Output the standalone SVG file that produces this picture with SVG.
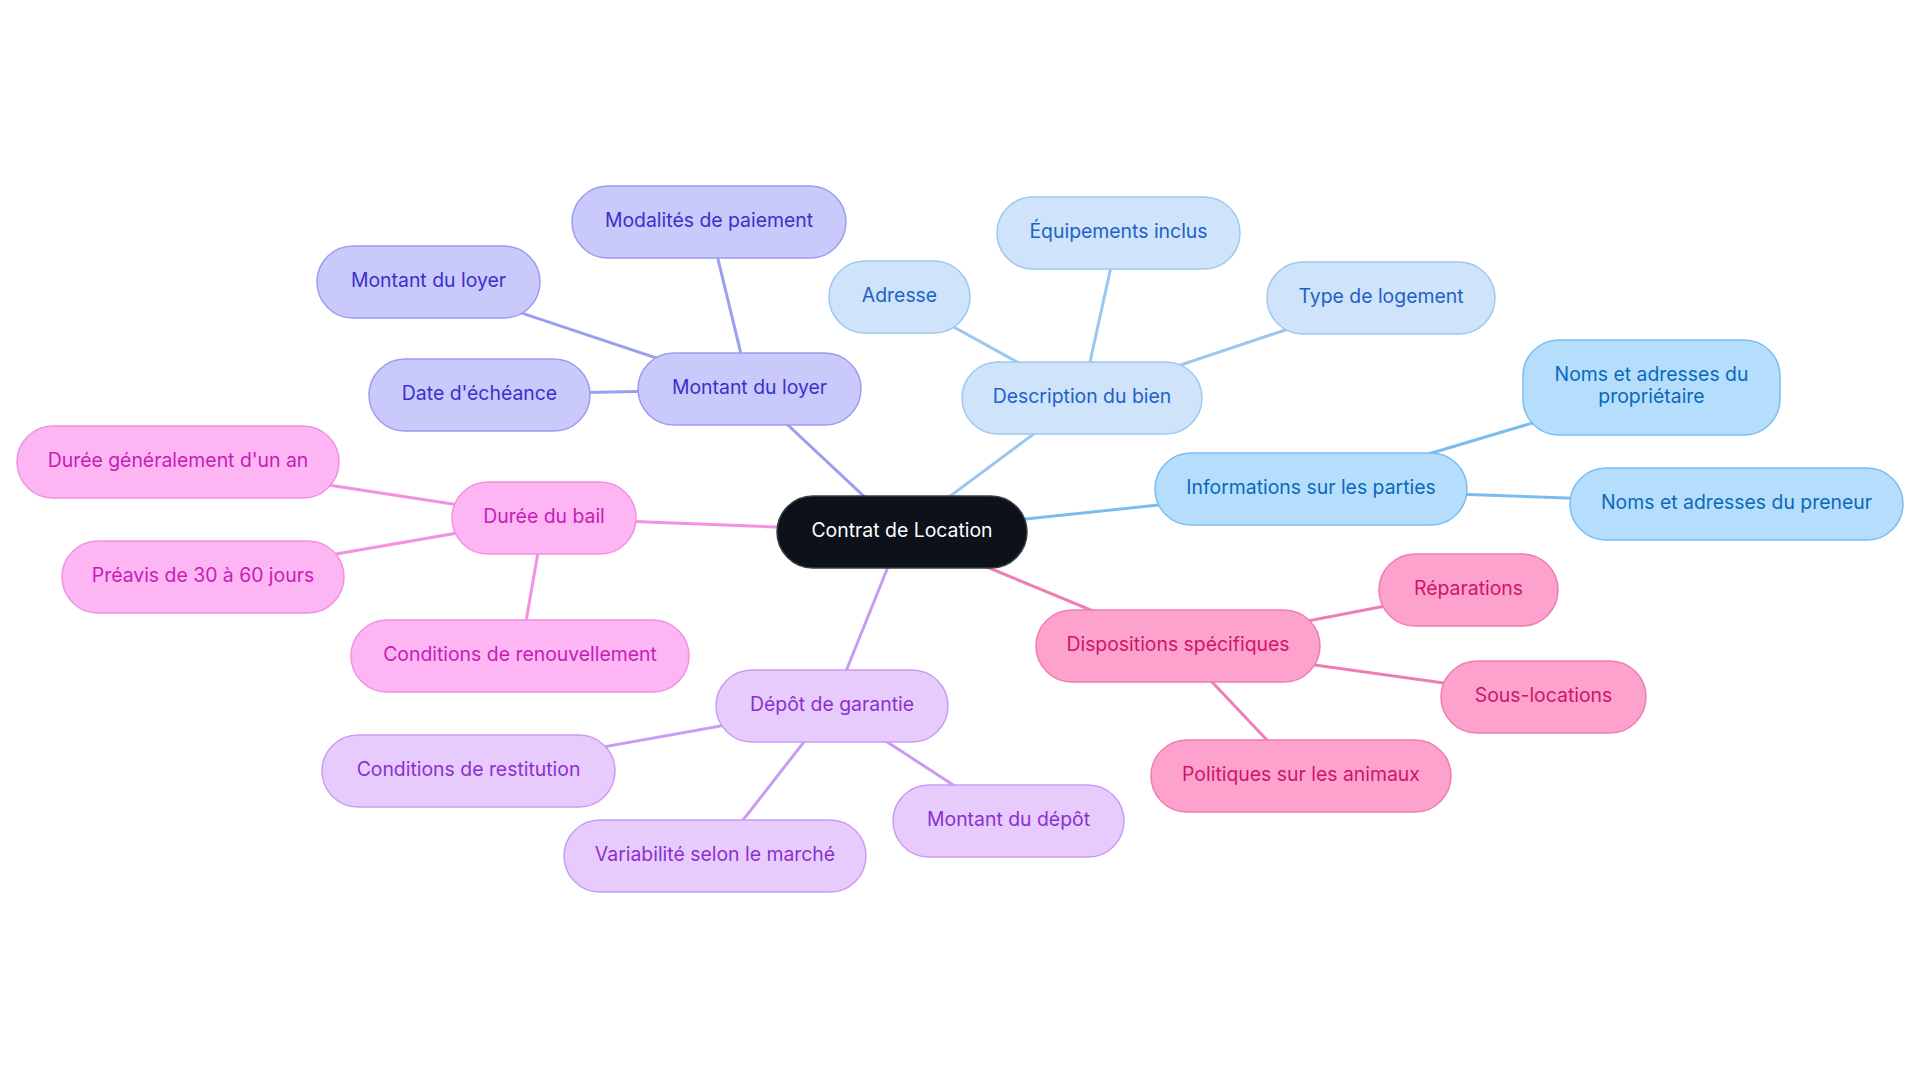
<svg xmlns="http://www.w3.org/2000/svg" width="1920" height="1083" viewBox="0 0 1920 1083">
<style>
text{font-family:Inter,"Noto Sans","Liberation Sans",sans-serif;font-size:19.4px;text-anchor:middle;dominant-baseline:central;transform:translateY(-2px)}
.n rect{stroke-width:1.5}
.c0 rect{fill:#0c111a;stroke:#3a3d44}.c0 text{fill:#ffffff}
.c1 rect{fill:#c9c9fc;stroke:#9c9cf0}.c1 text{fill:#3b30c9}
.c2 rect{fill:#cfe3fb;stroke:#9fc8f1}.c2 text{fill:#1d62c5}
.c3 rect{fill:#b5defd;stroke:#7bbdf0}.c3 text{fill:#0b68bb}
.c4 rect{fill:#fda2cc;stroke:#ee7db3}.c4 text{fill:#cf1469}
.c5 rect{fill:#e8cbfd;stroke:#c99cf4}.c5 text{fill:#8b30cf}
.c6 rect{fill:#fdb5f4;stroke:#f091e2}.c6 text{fill:#c61db7}
#edges line{stroke-width:3;fill:none}
.e1{stroke:#9c9ef0}.e2{stroke:#9dc7f0}.e3{stroke:#7bbcef}.e4{stroke:#ee7db3}.e5{stroke:#c99cf4}.e6{stroke:#f291e2}
</style>
<rect width="1920" height="1083" fill="#ffffff"/>
<g id="edges">
<line class="e1" x1="902" y1="532" x2="749.5" y2="389"/>
<line class="e1" x1="749.5" y1="389" x2="709" y2="222"/>
<line class="e1" x1="749.5" y1="389" x2="428.5" y2="282"/>
<line class="e1" x1="749.5" y1="389" x2="479.5" y2="395"/>
<line class="e2" x1="902" y1="532" x2="1082" y2="398"/>
<line class="e2" x1="1082" y1="398" x2="899.5" y2="297"/>
<line class="e2" x1="1082" y1="398" x2="1118.5" y2="233"/>
<line class="e2" x1="1082" y1="398" x2="1381" y2="298"/>
<line class="e3" x1="902" y1="532" x2="1311" y2="489"/>
<line class="e3" x1="1311" y1="489" x2="1651.5" y2="387.5"/>
<line class="e3" x1="1311" y1="489" x2="1736.5" y2="504"/>
<line class="e4" x1="902" y1="532" x2="1178" y2="646"/>
<line class="e4" x1="1178" y1="646" x2="1468.5" y2="590"/>
<line class="e4" x1="1178" y1="646" x2="1543.5" y2="697"/>
<line class="e4" x1="1178" y1="646" x2="1301" y2="776"/>
<line class="e5" x1="902" y1="532" x2="832" y2="706"/>
<line class="e5" x1="832" y1="706" x2="468.5" y2="771"/>
<line class="e5" x1="832" y1="706" x2="715" y2="856"/>
<line class="e5" x1="832" y1="706" x2="1008.5" y2="821"/>
<line class="e6" x1="902" y1="532" x2="544" y2="518"/>
<line class="e6" x1="544" y1="518" x2="178" y2="462"/>
<line class="e6" x1="544" y1="518" x2="203" y2="577"/>
<line class="e6" x1="544" y1="518" x2="520" y2="656"/>
</g>
<g id="n0" class="n c0"><rect x="777" y="496" width="250" height="72" rx="36"/><text x="902" y="532">Contrat de Location</text></g>
<g id="n1" class="n c1"><rect x="638" y="353" width="223" height="72" rx="36"/><text x="749.5" y="389">Montant du loyer</text></g>
<g id="n1a" class="n c1"><rect x="572" y="186" width="274" height="72" rx="36"/><text x="709" y="222">Modalités de paiement</text></g>
<g id="n1b" class="n c1"><rect x="317" y="246" width="223" height="72" rx="36"/><text x="428.5" y="282">Montant du loyer</text></g>
<g id="n1c" class="n c1"><rect x="369" y="359" width="221" height="72" rx="36"/><text x="479.5" y="395">Date d'échéance</text></g>
<g id="n2" class="n c2"><rect x="962" y="362" width="240" height="72" rx="36"/><text x="1082" y="398">Description du bien</text></g>
<g id="n2a" class="n c2"><rect x="829" y="261" width="141" height="72" rx="36"/><text x="899.5" y="297">Adresse</text></g>
<g id="n2b" class="n c2"><rect x="997" y="197" width="243" height="72" rx="36"/><text x="1118.5" y="233">Équipements inclus</text></g>
<g id="n2c" class="n c2"><rect x="1267" y="262" width="228" height="72" rx="36"/><text x="1381" y="298">Type de logement</text></g>
<g id="n3" class="n c3"><rect x="1155" y="453" width="312" height="72" rx="36"/><text x="1311" y="489">Informations sur les parties</text></g>
<g id="n3a" class="n c3"><rect x="1523" y="340" width="257" height="95" rx="36"/><text x="1651.5" y="376">Noms et adresses du</text><text x="1651.5" y="398">propriétaire</text></g>
<g id="n3b" class="n c3"><rect x="1570" y="468" width="333" height="72" rx="36"/><text x="1736.5" y="504">Noms et adresses du preneur</text></g>
<g id="n4" class="n c4"><rect x="1036" y="610" width="284" height="72" rx="36"/><text x="1178" y="646">Dispositions spécifiques</text></g>
<g id="n4a" class="n c4"><rect x="1379" y="554" width="179" height="72" rx="36"/><text x="1468.5" y="590">Réparations</text></g>
<g id="n4b" class="n c4"><rect x="1441" y="661" width="205" height="72" rx="36"/><text x="1543.5" y="697">Sous-locations</text></g>
<g id="n4c" class="n c4"><rect x="1151" y="740" width="300" height="72" rx="36"/><text x="1301" y="776">Politiques sur les animaux</text></g>
<g id="n5" class="n c5"><rect x="716" y="670" width="232" height="72" rx="36"/><text x="832" y="706">Dépôt de garantie</text></g>
<g id="n5a" class="n c5"><rect x="322" y="735" width="293" height="72" rx="36"/><text x="468.5" y="771">Conditions de restitution</text></g>
<g id="n5b" class="n c5"><rect x="564" y="820" width="302" height="72" rx="36"/><text x="715" y="856">Variabilité selon le marché</text></g>
<g id="n5c" class="n c5"><rect x="893" y="785" width="231" height="72" rx="36"/><text x="1008.5" y="821">Montant du dépôt</text></g>
<g id="n6" class="n c6"><rect x="452" y="482" width="184" height="72" rx="36"/><text x="544" y="518">Durée du bail</text></g>
<g id="n6a" class="n c6"><rect x="17" y="426" width="322" height="72" rx="36"/><text x="178" y="462">Durée généralement d'un an</text></g>
<g id="n6b" class="n c6"><rect x="62" y="541" width="282" height="72" rx="36"/><text x="203" y="577">Préavis de 30 à 60 jours</text></g>
<g id="n6c" class="n c6"><rect x="351" y="620" width="338" height="72" rx="36"/><text x="520" y="656">Conditions de renouvellement</text></g>
</svg>
